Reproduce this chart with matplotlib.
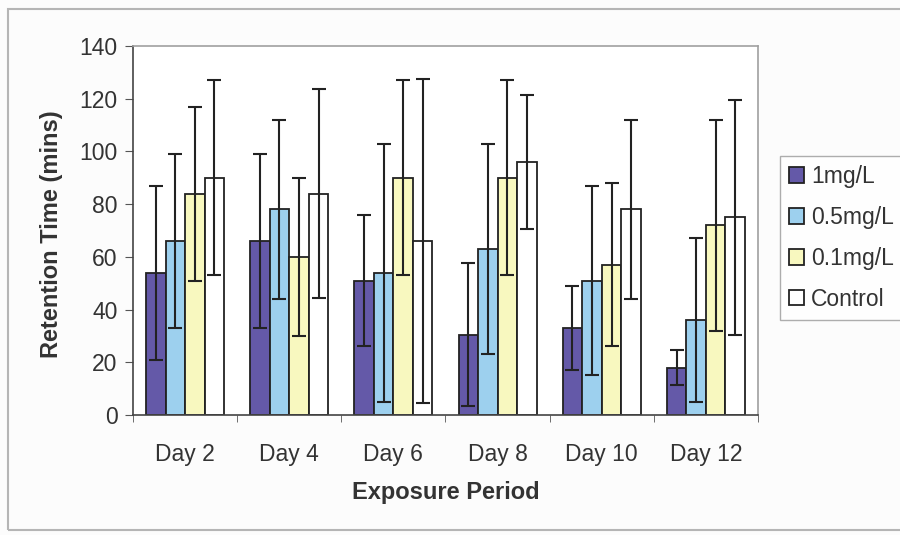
import matplotlib
matplotlib.use("Agg")
import matplotlib.pyplot as plt
from matplotlib.patches import Rectangle
import numpy as np

plt.rcParams['font.family'] = ['Liberation Sans', 'DejaVu Sans']

# données
days = ['Day 2', 'Day 4', 'Day 6', 'Day 8', 'Day 10', 'Day 12']
series = ['1mg/L', '0.5mg/L', '0.1mg/L', 'Control']

mean_1mg = [54, 66, 51, 30.5, 33, 18]
mean_05mg = [66, 78, 54, 63, 51, 36]
mean_01mg = [84, 60, 90, 90, 57, 72]
mean_ctrl = [90, 84, 66, 96, 78, 75]

err_1mg = [33, 33, 25, 27, 16, 6.5]
err_05mg = [33, 34, 49, 40, 36, 31]
err_01mg = [33, 30, 37, 37, 31, 40]
err_ctrl = [37, 39.5, 61.5, 25.5, 34, 44.5]

colors = ['#6459a8', '#9dd0ee', '#f8f8bf', '#ffffff']

means = [mean_1mg, mean_05mg, mean_01mg, mean_ctrl]
errs = [err_1mg, err_05mg, err_01mg, err_ctrl]

W, H = 900, 535
fig = plt.figure(figsize=(W / 100, H / 100), dpi=100)
fig.patch.set_facecolor('#fcfcfc')
ax = fig.add_axes([133 / W, 1 - 415 / H, 625 / W, 369 / H])

x = np.arange(len(days))
width = 0.1875
for i in range(4):
    pos = x + (i - 1.5) * width
    ax.bar(pos, means[i], width, color=colors[i], edgecolor='#222222',
           linewidth=1.3, label=series[i], zorder=2)
    ax.errorbar(pos, means[i], yerr=errs[i], fmt='none', ecolor='#222222',
                elinewidth=1.5, capsize=5, capthick=1.5, zorder=3)

ax.set_xlim(-0.5, len(days) - 0.5)
ax.set_ylim(0, 140)
ax.set_yticks(np.arange(0, 141, 20))
ax.set_xticks(x)
ax.set_xticklabels(days)
ax.set_xticks(np.arange(-0.5, len(days), 1), minor=True)
ax.tick_params(axis='x', which='major', length=0, pad=20, labelsize=16.5, labelcolor='#333333')
ax.tick_params(axis='x', which='minor', length=5, color='#555555', direction='out')
ax.tick_params(axis='y', length=6, color='#555555', pad=5, labelsize=16.5, labelcolor='#333333')

ax.spines['left'].set_color('#444444')
ax.spines['bottom'].set_color('#444444')
ax.spines['top'].set_color('#a0a0a0')
ax.spines['right'].set_color('#a0a0a0')
for s in ax.spines.values():
    s.set_linewidth(1.2)

fig.text(52 / W, 1 - 234 / H, 'Retention Time (mins)', rotation=90, ha='center', va='center',
         fontsize=17, fontweight='bold', color='#333333')
fig.text(446 / W, 1 - 493 / H, 'Exposure Period', ha='center', va='center',
         fontsize=17, fontweight='bold', color='#333333')

leg = fig.legend(loc='upper left', bbox_to_anchor=(780 / W, 1 - 156 / H), fontsize=16.5,
                 handlelength=0.65, handleheight=0.65, handletextpad=0.3,
                 labelspacing=0.78, borderpad=0.4, fancybox=False, borderaxespad=0)
leg.get_frame().set_edgecolor('#999999')
leg.get_frame().set_linewidth(1.0)
for t in leg.get_texts():
    t.set_color('#333333')

# cadre extérieur du graphique
fig.patches.append(Rectangle((8 / W, 1 - 530 / H), 900 / W, 521 / H, transform=fig.transFigure,
                             fill=False, edgecolor='#b5b5b5', linewidth=1.5))

fig.savefig('out.png', dpi=100, facecolor=fig.get_facecolor())
